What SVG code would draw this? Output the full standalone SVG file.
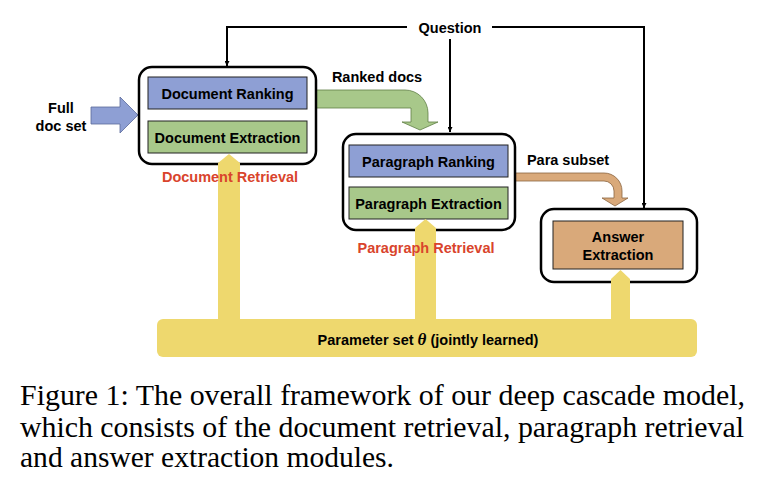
<svg xmlns="http://www.w3.org/2000/svg" width="759" height="489" viewBox="0 0 759 489">
<style>
.outer{fill:#fff;stroke:#000;stroke-width:2.5}
.blue{fill:#8E9FD4;stroke:#222;stroke-width:1}
.green{fill:#A8C88A;stroke:#222;stroke-width:1}
.tan{fill:#D9A97A;stroke:#222;stroke-width:1}
.yel{fill:#EED86E}
.t{font-family:"Liberation Sans",Arial,sans-serif;font-weight:bold;font-size:14.5px;fill:#000;text-anchor:middle}
.red{fill:#D9442C}
.line{fill:none;stroke:#000;stroke-width:2}
.cap{font-family:"Liberation Serif","Times New Roman",serif;font-size:28.5px;fill:#000}
</style>
<defs>
<marker id="ah" viewBox="0 0 10 10" refX="10" refY="5" markerWidth="5" markerHeight="5" orient="auto" markerUnits="userSpaceOnUse">
<path d="M0,0 L10,5 L0,10 Z" fill="#000"/>
</marker>
</defs>
<g id="connectors">
<path class="line" d="M407,27 H227 V66" marker-end="url(#ah)"/>
<path class="line" d="M492,27 H644 V208" marker-end="url(#ah)"/>
<path class="line" d="M450,39 V132" marker-end="url(#ah)"/>
<path id="full-arrow" d="M91,107 H120 V97 L138,115 L120,133 V124 H91 Z" fill="#8E9FD4" stroke="#5a6a9a" stroke-width="0.8"/>
<path id="ranked-arrow" d="M316,90 H405 A23,23 0 0 1 428,113 V122 H438 L420,130 L402,122 H411 V108 H316 Z" fill="#A8C88A" stroke="#5f7f45" stroke-width="0.8"/>
<path id="para-arrow" d="M515,173 H604 A18,18 0 0 1 622,191 V198 H628 L615,206 L602,198 H614 V191 A10,10 0 0 0 604,181 H515 Z" fill="#D9A97A" stroke="#8a6440" stroke-width="0.8"/>
</g>
<g id="doc-retrieval">
<rect class="outer" x="139" y="67" width="177" height="97" rx="13"/>
<rect class="blue" x="148" y="77" width="159" height="32"/>
<text class="t" x="227.5" y="98.5">Document Ranking</text>
<rect class="green" x="148" y="121" width="159" height="32"/>
<text class="t" x="227.5" y="142.5">Document Extraction</text>
</g>
<g id="para-retrieval">
<rect class="outer" x="343" y="134" width="172" height="96" rx="13"/>
<rect class="blue" x="349" y="145" width="159" height="32"/>
<text class="t" x="428.5" y="166.5">Paragraph Ranking</text>
<rect class="green" x="349" y="187" width="159" height="32"/>
<text class="t" x="428.5" y="208.5">Paragraph Extraction</text>
</g>
<g id="answer-extraction">
<rect class="outer" x="541" y="209" width="156" height="73" rx="13"/>
<rect class="tan" x="553" y="221" width="130" height="48"/>
<text class="t" x="618" y="242">Answer</text>
<text class="t" x="618" y="260">Extraction</text>
</g>
<g id="parameter-set">
<path class="yel" d="M218,320 V163 L229,154 L240,163 V320 Z"/>
<path class="yel" d="M415,320 V228 L425.5,219 L436,228 V320 Z"/>
<path class="yel" d="M611,320 V279 L620.5,270 L630,279 V320 Z"/>
<rect class="yel" x="157" y="319" width="540" height="38" rx="6"/>
<text class="t" x="428" y="345">Parameter set <tspan font-family="Liberation Serif,serif" font-style="italic" font-size="17">θ</tspan> (jointly learned)</text>
</g>
<g id="labels">
<text class="t" x="61" y="113">Full</text>
<text class="t" x="61" y="131">doc set</text>
<text class="t" x="450" y="33">Question</text>
<text class="t" x="377" y="82">Ranked docs</text>
<text class="t" x="568" y="165">Para subset</text>
<text class="t red" x="230" y="182">Document Retrieval</text>
<text class="t red" x="426" y="253">Paragraph Retrieval</text>
</g>
<g id="caption">
<text class="cap" x="20" y="405" textLength="725" lengthAdjust="spacingAndGlyphs">Figure 1: The overall framework of our deep cascade model,</text>
<text class="cap" x="20" y="437" textLength="724" lengthAdjust="spacingAndGlyphs">which consists of the document retrieval, paragraph retrieval</text>
<text class="cap" x="20" y="467" textLength="374" lengthAdjust="spacingAndGlyphs">and answer extraction modules.</text>
</g>
</svg>
